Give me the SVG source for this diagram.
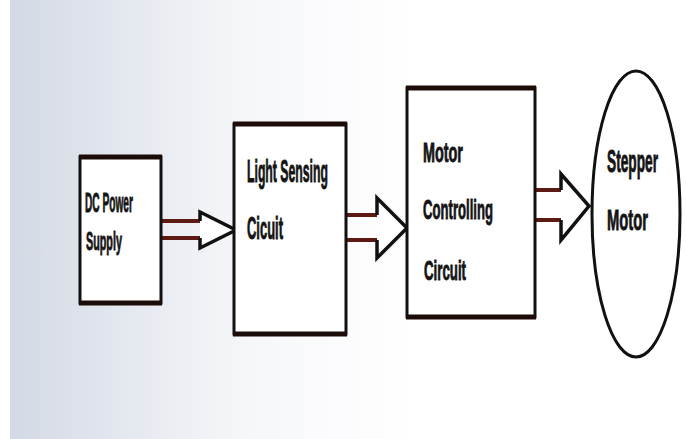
<svg xmlns="http://www.w3.org/2000/svg" width="686" height="439" viewBox="0 0 686 439">
  <defs>
    <!-- faint grey wash on the paper, fading out to the right -->
    <linearGradient id="paper" x1="0" y1="0" x2="1" y2="0">
      <stop offset="0" stop-color="#d3d9e4"/>
      <stop offset="0.35" stop-color="#f6f7fa"/>
      <stop offset="0.6" stop-color="#ffffff"/>
    </linearGradient>
  </defs>
  <style>
    .box { fill: #ffffff; stroke: #111111; stroke-width: 3; }
    .edge { stroke: #1c0c08; stroke-width: 5; }
    .shaft { stroke: #5e1a12; stroke-width: 4; fill: none; }
    .head { stroke: #111111; stroke-width: 3.5; fill: #ffffff; stroke-linejoin: miter; }
    .motor { fill: #ffffff; stroke: #111111; stroke-width: 3; }
    .label { font-family: "Liberation Sans", Arial, sans-serif; font-weight: bold; fill: #141414; stroke: #141414; stroke-width: 0.9; }
  </style>

  <rect x="0" y="0" width="686" height="439" fill="#ffffff"/>
  <rect x="10" y="0" width="676" height="439" fill="url(#paper)"/>

  <!-- block arrows between stages -->
  <g id="connectors">
    <g id="arrow-supply-sensing">
      <line class="shaft" x1="161" y1="221" x2="200" y2="221"/>
      <line class="shaft" x1="161" y1="238" x2="200" y2="238"/>
      <polyline class="head" points="200,221 200,212 236,230 200,248 200,238"/>
    </g>
    <g id="arrow-sensing-control">
      <line class="shaft" x1="346" y1="215" x2="377" y2="215"/>
      <line class="shaft" x1="346" y1="240" x2="377" y2="240"/>
      <polyline class="head" points="377,215 377,198 407,228 377,258 377,240"/>
    </g>
    <g id="arrow-control-motor">
      <line class="shaft" x1="535" y1="190" x2="561" y2="190"/>
      <line class="shaft" x1="535" y1="220" x2="561" y2="220"/>
      <polyline class="head" points="561,190 561,174 589,206 561,240 561,220"/>
    </g>
  </g>

  <!-- labels are set in a condensed, tall cut: narrowed with a horizontal scale -->
  <g id="dc-power-supply">
    <rect class="box" x="80" y="157" width="81" height="146"/>
    <line class="edge" x1="79" y1="157" x2="162" y2="157"/>
    <line class="edge" x1="79" y1="303" x2="162" y2="303"/>
    <text class="label" font-size="27" transform="translate(85,212) scale(0.376,1)">DC Power</text>
    <text class="label" font-size="26" transform="translate(86,250) scale(0.415,1)">Supply</text>
  </g>

  <g id="light-sensing-circuit">
    <rect class="box" x="234" y="124" width="112" height="210"/>
    <line class="edge" x1="233" y1="124" x2="347" y2="124"/>
    <line class="edge" x1="233" y1="334" x2="347" y2="334"/>
    <text class="label" font-size="32" transform="translate(247,182) scale(0.383,1)">Light Sensing</text>
    <text class="label" font-size="32" transform="translate(247,239) scale(0.405,1)">Cicuit</text>
  </g>

  <g id="motor-controlling-circuit">
    <rect class="box" x="407" y="88" width="128" height="229"/>
    <line class="edge" x1="406" y1="88" x2="536" y2="88"/>
    <line class="edge" x1="406" y1="317" x2="536" y2="317"/>
    <text class="label" font-size="28" transform="translate(423,162) scale(0.514,1)">Motor</text>
    <text class="label" font-size="28" transform="translate(423,219) scale(0.469,1)">Controlling</text>
    <text class="label" font-size="28" transform="translate(424,280) scale(0.474,1)">Circuit</text>
  </g>

  <g id="stepper-motor">
    <ellipse class="motor" cx="636" cy="214" rx="44" ry="143"/>
    <text class="label" font-size="32" transform="translate(607,172) scale(0.428,1)">Stepper</text>
    <text class="label" font-size="30" transform="translate(607,230) scale(0.492,1)">Motor</text>
  </g>
</svg>
